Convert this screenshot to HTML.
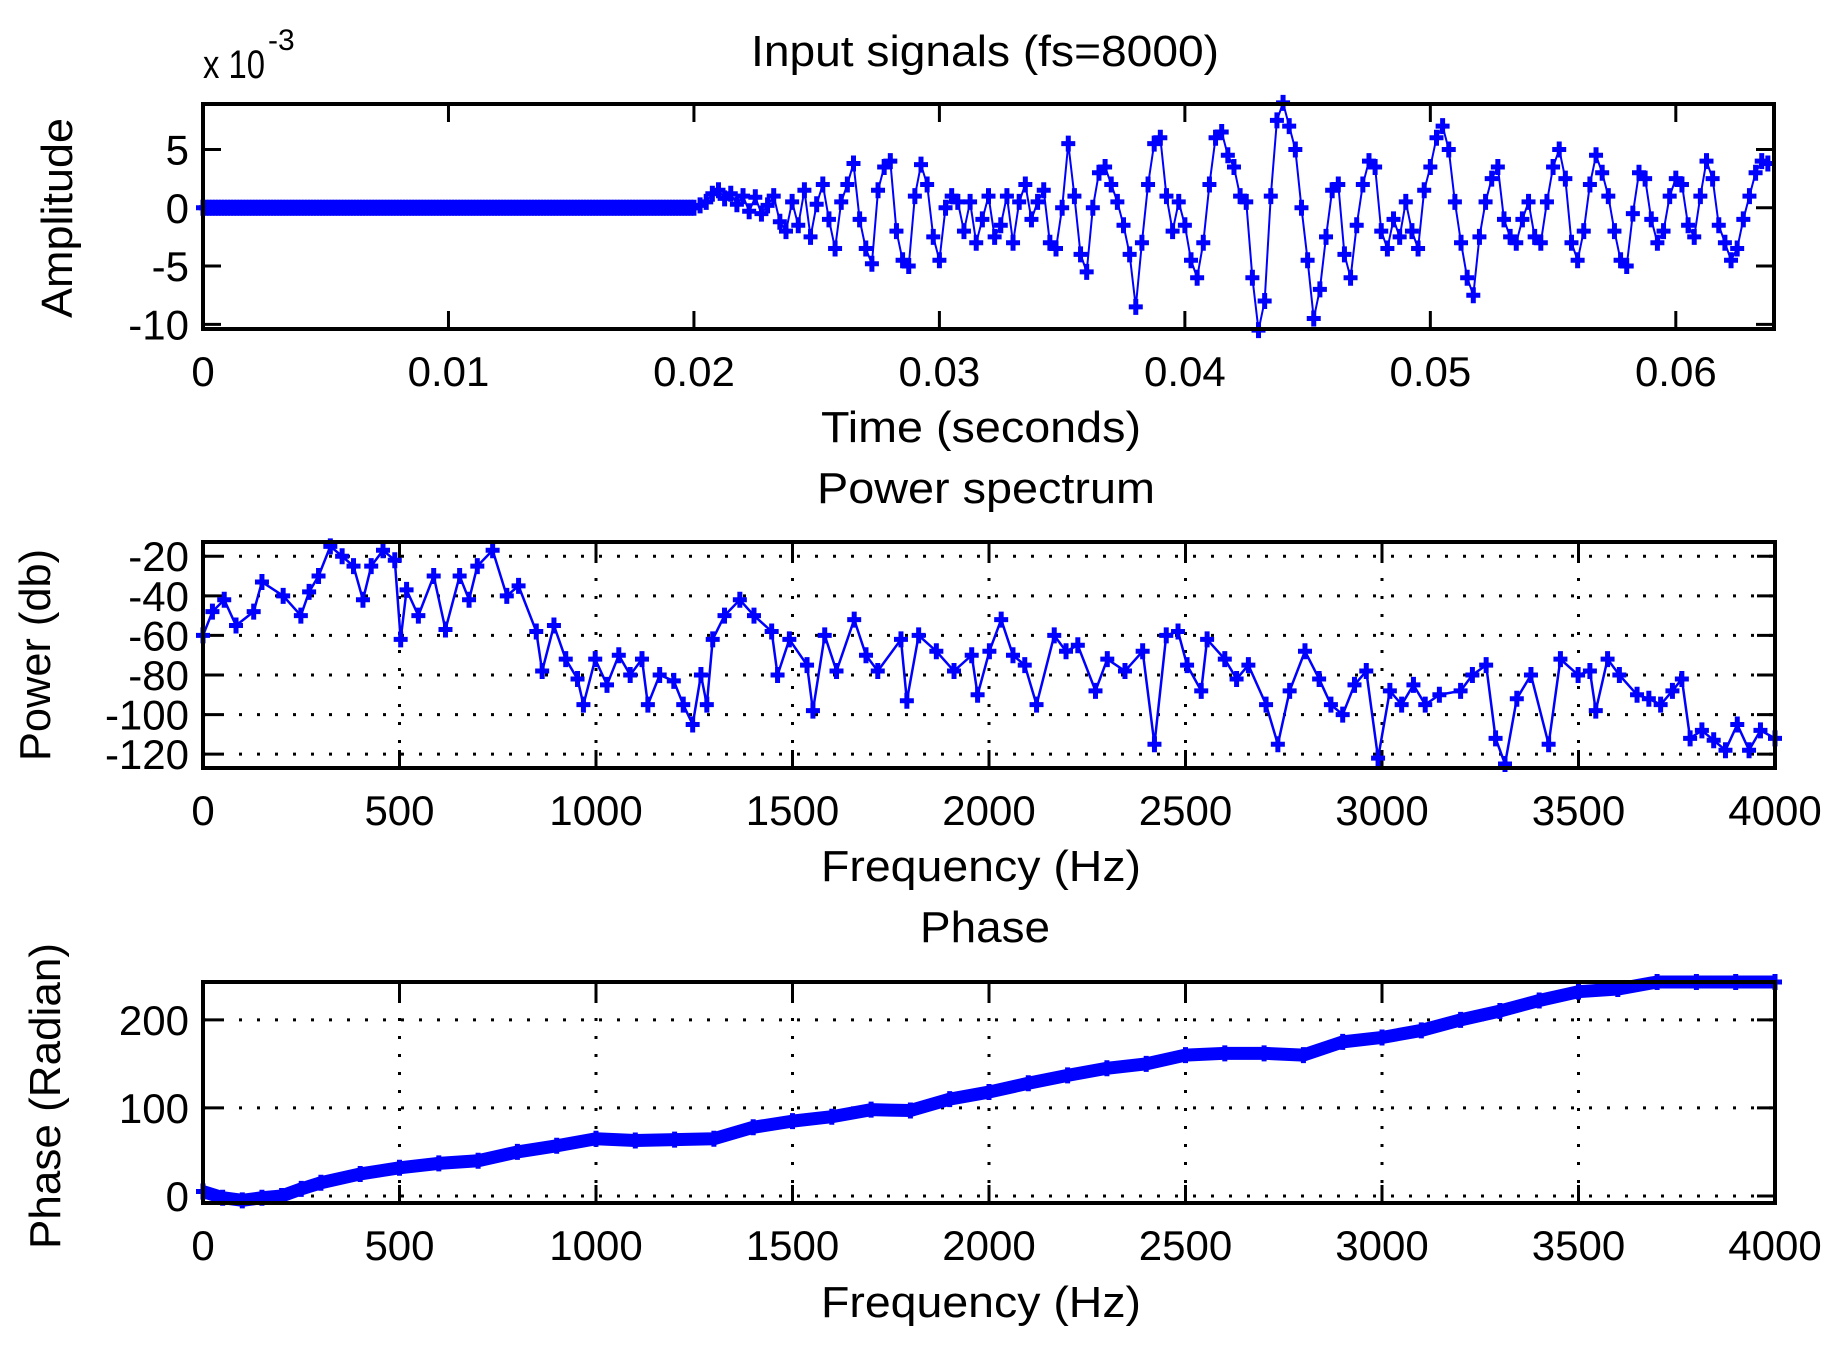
<!DOCTYPE html>
<html><head><meta charset="utf-8"><style>
html,body{margin:0;padding:0;background:#fff;}
svg{display:block;font-family:"Liberation Sans",sans-serif;}
</style></head><body>
<svg id="fig" width="1847" height="1354" viewBox="0 0 1847 1354" xmlns="http://www.w3.org/2000/svg">
<rect width="1847" height="1354" fill="#fff"/>
</svg>
<script>
// ---- Data: input signal (values x1e-3), sampled every 2 samples starting at n=160 (fs=8000)
const fs = 8000;
const quietSamples = 160;
const sigValues = [0,0.2,0.5,1.2,1.5,0.8,1.2,0.3,1.0,-0.3,0.9,-0.5,0.2,1.0,-1.2,-2.0,0.5,-1.5,1.5,-2.5,
0.3,2.0,-1.0,-3.5,0.5,2.0,3.8,-1.0,-3.5,-4.8,1.5,3.5,4.0,-2.0,-4.5,-5.0,1.0,3.7,2.0,-2.5,
-4.5,0.0,1.0,0.5,-2.0,0.5,-3.0,-1.0,1.0,-2.5,-1.5,1.0,-3.0,0.5,2.0,-1.0,0.5,1.5,-3.0,-3.5,
0.0,5.5,1.0,-4.0,-5.5,0.0,3.0,3.5,2.0,0.5,-1.5,-4.0,-8.5,-3.0,2.0,5.5,6.0,1.0,-2.0,0.5,
-1.5,-4.5,-6.0,-3.0,2.0,6.0,6.5,4.5,3.5,1.0,0.5,-6.0,-10.5,-8.0,1.0,7.5,9.0,7.0,5.0,0.0,
-4.5,-9.5,-7.0,-2.5,1.5,2.0,-4.0,-6.0,-1.5,2.0,4.0,3.5,-2.0,-3.5,-1.0,-2.5,0.5,-2.0,-3.5,1.5,
3.5,6.0,7.0,5.0,0.5,-3.0,-6.0,-7.5,-2.5,0.5,2.5,3.5,-1.0,-2.5,-3.0,-1.0,0.5,-2.5,-3.0,0.5,
3.5,5.0,2.5,-3.0,-4.5,-2.0,2.0,4.5,3.0,1.0,-2.0,-4.5,-5.0,-0.5,3.0,2.5,-1.0,-3.0,-2.0,1.0,
2.5,2.0,-1.5,-2.5,1.0,4.0,2.5,-1.5,-3.0,-4.5,-3.5,-1.0,1.0,3.0,4.0,3.8];
const sigXTicks = [0,0.01,0.02,0.03,0.04,0.05,0.06];
const sigXTickLabels = ["0","0.01","0.02","0.03","0.04","0.05","0.06"];
const sigYTicks = [-10,-5,0,5];
// ---- Power spectrum
const powFreq = [0,24,54,84,129,150,204,249,270,294,324,354,383,407,428,458,488,503,518,548,587,617,653,677,698,737,773,803,848,863,893,923,953,968,998,1028,1058,1087,1117,1132,1162,1198,1222,1246,1267,1282,1297,1327,1366,1402,1447,1462,1492,1537,1552,1582,1612,1657,1687,1717,1776,1791,1821,1866,1911,1956,1971,2001,2031,2061,2091,2121,2166,2196,2226,2271,2301,2346,2391,2421,2451,2481,2504,2540,2555,2600,2630,2660,2705,2735,2765,2804,2840,2870,2900,2930,2960,2990,3020,3050,3080,3110,3146,3200,3230,3265,3289,3313,3343,3379,3424,3454,3499,3529,3544,3574,3604,3649,3679,3709,3739,3763,3784,3814,3844,3874,3904,3934,3963,4000];
const powDb = [-60,-48,-42,-55,-48,-33,-40,-50,-38,-30,-15,-20,-25,-42,-25,-17,-22,-62,-37,-50,-30,-57,-30,-42,-25,-17,-40,-35,-58,-78,-55,-72,-82,-95,-72,-85,-70,-80,-72,-95,-80,-83,-95,-105,-80,-95,-62,-50,-42,-50,-58,-80,-62,-75,-98,-60,-78,-52,-70,-78,-62,-93,-60,-68,-78,-70,-90,-68,-52,-70,-75,-95,-60,-68,-65,-88,-72,-78,-68,-115,-60,-58,-75,-88,-62,-72,-82,-75,-95,-115,-88,-68,-82,-95,-100,-85,-78,-122,-88,-95,-85,-95,-90,-88,-80,-75,-112,-125,-92,-80,-115,-72,-80,-78,-98,-72,-80,-90,-92,-95,-88,-82,-112,-108,-113,-118,-105,-118,-108,-112];
const freqTicks = [0,500,1000,1500,2000,2500,3000,3500,4000];
const powYTicks = [-120,-100,-80,-60,-40,-20];
// ---- Phase
const phFreq = [0,50,100,150,200,250,300,400,500,600,700,800,900,1000,1100,1200,1300,1400,1500,1600,1700,1800,1900,2000,2100,2200,2300,2400,2500,2600,2700,2800,2900,3000,3100,3200,3300,3400,3500,3600,3700,3800,3900,4000];
const phVal = [5,-2,-5,-2,0,8,15,25,32,37,40,50,57,65,63,64,65,78,85,90,98,97,110,118,128,137,145,150,160,162,162,160,175,180,188,200,210,222,232,235,243,243,243,243];
const phYTicks = [0,100,200];

const NS = "http://www.w3.org/2000/svg";
const svg = document.getElementById('fig');
function el(tag, attrs, parent, txt) {
  const e = document.createElementNS(NS, tag);
  for (const k in attrs) e.setAttribute(k, attrs[k]);
  if (txt !== undefined) e.textContent = txt;
  (parent || svg).appendChild(e);
  return e;
}
const BLUE = "#0000ff";
function makeAxes(name, box, xr, yr) {
  const g = el('g', {});
  
  
  const sx = v => box.l + (v - xr[0]) / (xr[1] - xr[0]) * (box.r - box.l);
  const sy = v => box.b - (v - yr[0]) / (yr[1] - yr[0]) * (box.b - box.t);
  return {g, sx, sy, box};
}
function drawFrame(ax, xt, xtl, yt, ytl, grid, name) {
  const {g, sx, sy, box} = ax;
  const fg = el('g', {}, g);
  
  
  if (grid) {
    xt.forEach(v => { const x = sx(v); if (x > box.l + 3 && x < box.r - 3)
      el('line', {x1:x, x2:x, y1:box.t, y2:box.b, stroke:'#000', 'stroke-width':3, 'stroke-dasharray':'3 15'}, fg); });
    yt.forEach(v => { const y = sy(v);
      el('line', {x1:box.l, x2:box.r, y1:y, y2:y, stroke:'#000', 'stroke-width':3, 'stroke-dasharray':'3 15'}, fg); });
  }
  xt.forEach(v => { const x = sx(v);
    el('line', {x1:x, x2:x, y1:box.b, y2:box.b - 18, stroke:'#000', 'stroke-width':3}, fg);
    el('line', {x1:x, x2:x, y1:box.t, y2:box.t + 18, stroke:'#000', 'stroke-width':3}, fg); });
  yt.forEach(v => { const y = sy(v);
    el('line', {x1:box.l, x2:box.l + 18, y1:y, y2:y, stroke:'#000', 'stroke-width':3}, fg);
    el('line', {x1:box.r, x2:box.r - 18, y1:y, y2:y, stroke:'#000', 'stroke-width':3}, fg); });
  const tg = el('g', {'font-size':42, fill:'#000'}, g);
  
  
  xt.forEach((v, i) => {
    const t = el('text', {x:sx(v), y:box.b + 57, 'text-anchor':'middle'}, tg, xtl[i]);
    
    
  });
  yt.forEach((v, i) => {
    const t = el('text', {x:box.l - 14, y:sy(v) + 15, 'text-anchor':'end'}, tg, ytl[i]);
    
    
  });
}
function drawBorder(ax, name) {
  const b = ax.box;
  const r = el('rect', {x:b.l, y:b.t, width:b.r - b.l, height:b.b - b.t, fill:'none', stroke:'#000', 'stroke-width':4}, ax.g);
  
  
}
function plus(g, x, y) {
  const p = el('path', {d:`M${x-7},${y}H${x+7}M${x},${y-8}V${y+8}`, stroke:BLUE, 'stroke-width':5, fill:'none'}, g);
  
  
}
function label(txt, x, y, len, name, rot) {
  const a = {x:x, y:y, 'text-anchor':'middle', 'font-size':44, fill:'#000', textLength:len, lengthAdjust:'spacingAndGlyphs'};
  if (rot) a.transform = `rotate(-90 ${x} ${y})`;
  const t = el('text', a, svg, txt);
  
  
}

// ===== Plot 1
const ax1 = makeAxes('input-signal-axes', {l:203, r:1774, t:104, b:329}, [0, 0.064], [-10.4, 8.9]);
drawFrame(ax1, sigXTicks, sigXTickLabels, sigYTicks, sigYTicks.map(String), false, 'signal');
{
  const s = el('g', {}, ax1.g);
  
  
  const pts = [];
  for (let n = 0; n < quietSamples; n++) pts.push([n / fs, 0]);
  sigValues.forEach((v, i) => pts.push([(quietSamples + 2 * i) / fs, v]));
  el('polyline', {points: pts.map(p => ax1.sx(p[0]) + ',' + ax1.sy(p[1])).join(' '), fill:'none', stroke:BLUE, 'stroke-width':2}, s);
  pts.forEach(p => plus(s, ax1.sx(p[0]), ax1.sy(p[1])));
}
drawBorder(ax1, 'signal');
label('Input signals (fs=8000)', 985, 66, 468, 'signal-title');
{
  const t = el('text', {x:203, y:78, 'font-size':40, fill:'#000', textLength:62, lengthAdjust:'spacingAndGlyphs'}, svg, 'x 10');
  
  
  const e = el('text', {x:268, y:50, 'font-size':30, fill:'#000'}, svg, '-3');
  
  
}
label('Time (seconds)', 981, 442, 320, 'time-x-axis-title');
label('Amplitude', 72, 218, 200, 'amplitude-y-axis-title', true);

// ===== Plot 2
const ax2 = makeAxes('power-spectrum-axes', {l:203, r:1775, t:542, b:768}, [0, 4000], [-127, -12.8]);
drawFrame(ax2, freqTicks, freqTicks.map(String), powYTicks, powYTicks.map(String), true, 'power');
{
  const s = el('g', {}, ax2.g);
  
  
  el('polyline', {points: powFreq.map((f, i) => ax2.sx(f) + ',' + ax2.sy(powDb[i])).join(' '), fill:'none', stroke:BLUE, 'stroke-width':2.5}, s);
  powFreq.forEach((f, i) => plus(s, ax2.sx(f), ax2.sy(powDb[i])));
}
drawBorder(ax2, 'power');
label('Power spectrum', 986, 503, 338, 'power-title');
label('Frequency (Hz)', 981, 881, 320, 'power-x-axis-title');
label('Power (db)', 50, 655, 212, 'power-y-axis-title', true);

// ===== Plot 3
const ax3 = makeAxes('phase-axes', {l:203, r:1775, t:982, b:1203}, [0, 4000], [-8, 243]);
drawFrame(ax3, freqTicks, freqTicks.map(String), phYTicks, phYTicks.map(String), true, 'phase');
{
  const s = el('g', {}, ax3.g);
  
  
  el('polyline', {points: phFreq.map((f, i) => ax3.sx(f) + ',' + ax3.sy(phVal[i])).join(' '), fill:'none', stroke:BLUE, 'stroke-width':13, 'stroke-linejoin':'round'}, s);
  phFreq.forEach((f, i) => plus(s, ax3.sx(f), ax3.sy(phVal[i])));
}
drawBorder(ax3, 'phase');
label('Phase', 985, 942, 130, 'phase-title');
label('Frequency (Hz)', 981, 1317, 320, 'phase-x-axis-title');
label('Phase (Radian)', 60, 1096, 306, 'phase-y-axis-title', true);
</script>
</body></html>
